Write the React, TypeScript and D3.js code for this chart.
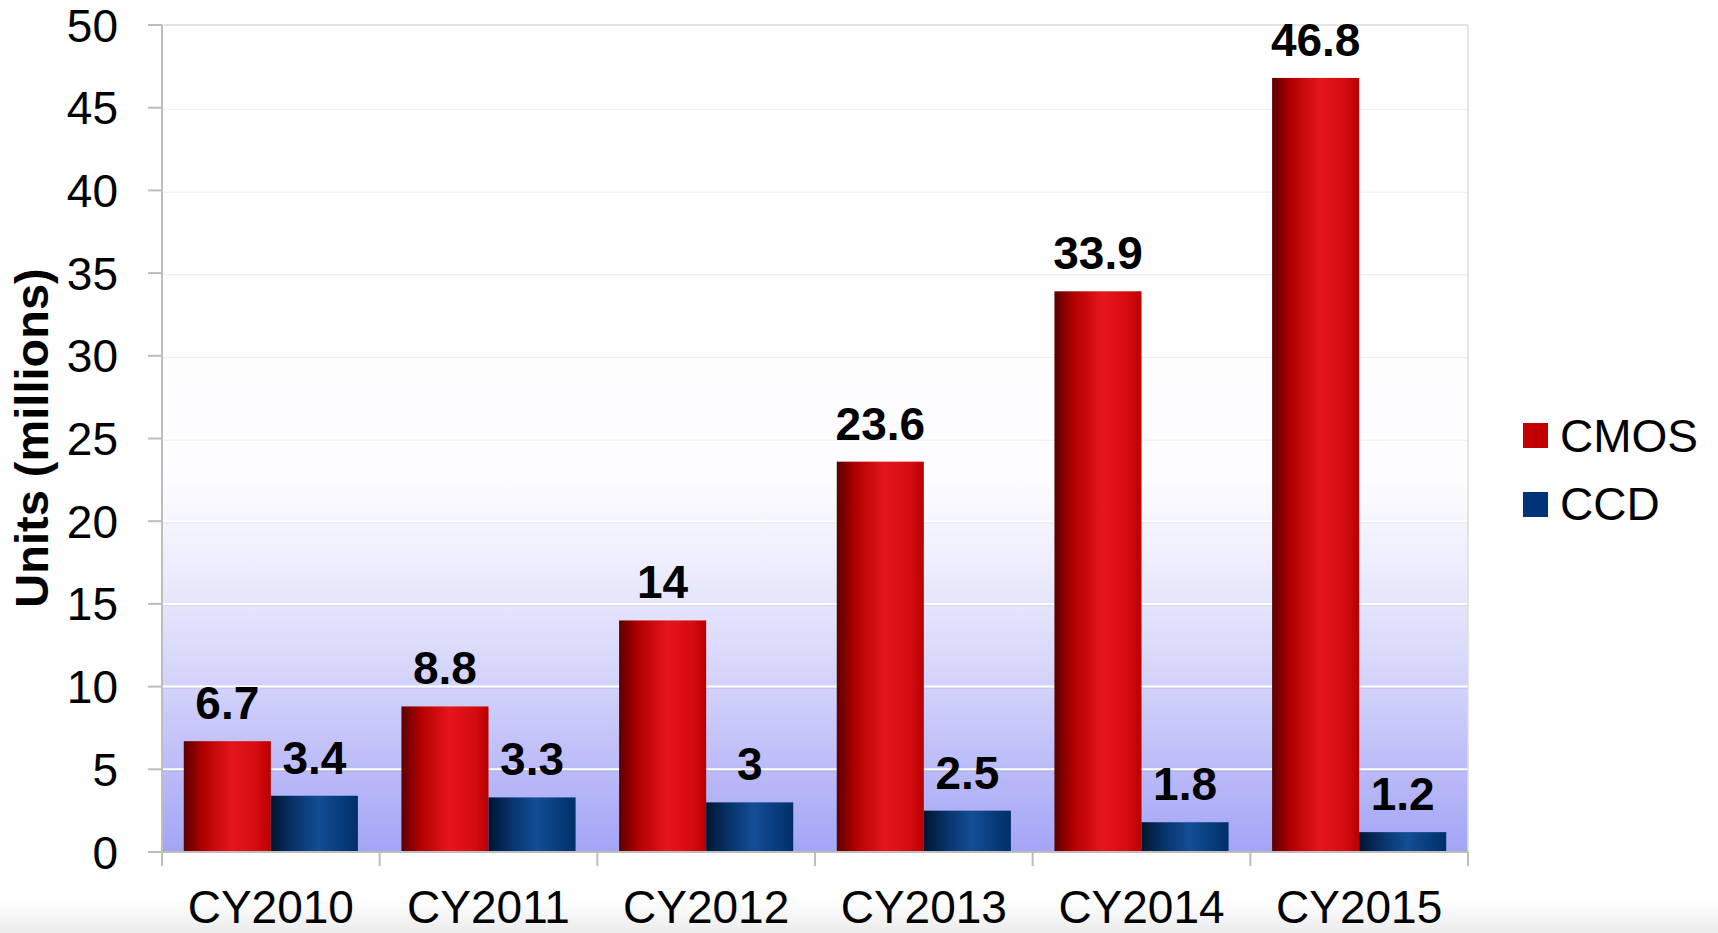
import React, { useEffect, useRef } from 'react';
import * as d3 from 'd3';

const years = ['CY2010', 'CY2011', 'CY2012', 'CY2013', 'CY2014', 'CY2015'];
const seriesNames = ['CMOS', 'CCD'];
const cmosValues = [6.7, 8.8, 14, 23.6, 33.9, 46.8];
const ccdValues = [3.4, 3.3, 3, 2.5, 1.8, 1.2];
const cmosLabels = ['6.7', '8.8', '14', '23.6', '33.9', '46.8'];
const ccdLabels = ['3.4', '3.3', '3', '2.5', '1.8', '1.2'];
const yTicks = [0, 5, 10, 15, 20, 25, 30, 35, 40, 45, 50];

const FONT = '"Liberation Sans", Arial, sans-serif';

function App() {
  const chartRef = useRef<SVGSVGElement>(null);

  useEffect(() => {
    drawChart();
  }, []);

  const drawChart = () => {
    const width = 1718, height = 933;
    const margin = { top: 25, right: 250, bottom: 81, left: 162 };

    d3.select(chartRef.current).selectAll('*').remove();

    const svg = d3.select(chartRef.current)
      .attr('width', width)
      .attr('height', height);

    const defs = svg.append('defs');

    // plot background: white on top, fading to lavender at the bottom
    const bg = defs.append('linearGradient')
      .attr('id', 'bgGrad')
      .attr('x1', 0).attr('y1', 0).attr('x2', 0).attr('y2', 1);
    bg.append('stop').attr('offset', '0%').attr('stop-color', '#ffffff');
    bg.append('stop').attr('offset', '55%').attr('stop-color', '#fdfdff');
    bg.append('stop').attr('offset', '66%').attr('stop-color', '#ececfd');
    bg.append('stop').attr('offset', '80%').attr('stop-color', '#d2d2fa');
    bg.append('stop').attr('offset', '100%').attr('stop-color', '#a4a4f6');

    const red = defs.append('linearGradient').attr('id', 'redGrad');
    red.append('stop').attr('offset', '0%').attr('stop-color', '#5c0000');
    red.append('stop').attr('offset', '22%').attr('stop-color', '#b30000');
    red.append('stop').attr('offset', '55%').attr('stop-color', '#e5161c');
    red.append('stop').attr('offset', '85%').attr('stop-color', '#d40b10');
    red.append('stop').attr('offset', '100%').attr('stop-color', '#b80000');

    const blue = defs.append('linearGradient').attr('id', 'blueGrad');
    blue.append('stop').attr('offset', '0%').attr('stop-color', '#001530');
    blue.append('stop').attr('offset', '28%').attr('stop-color', '#08356e');
    blue.append('stop').attr('offset', '55%').attr('stop-color', '#134e96');
    blue.append('stop').attr('offset', '100%').attr('stop-color', '#002f68');

    const foot = defs.append('linearGradient')
      .attr('id', 'footGrad')
      .attr('x1', 0).attr('y1', 0).attr('x2', 0).attr('y2', 1);
    foot.append('stop').attr('offset', '0%').attr('stop-color', '#ffffff');
    foot.append('stop').attr('offset', '100%').attr('stop-color', '#ebebeb');

    svg.append('rect')
      .attr('x', 0).attr('y', 900)
      .attr('width', width).attr('height', height - 900)
      .attr('fill', 'url(#footGrad)');

    const x0 = d3.scaleBand()
      .domain(years)
      .range([margin.left, width - margin.right])
      .paddingInner(0.2)
      .paddingOuter(0.1);

    const x1 = d3.scaleBand()
      .domain(seriesNames)
      .range([0, x0.bandwidth()]);

    const y = d3.scaleLinear()
      .domain([0, 50])
      .range([height - margin.bottom, margin.top]);

    const plotL = margin.left, plotR = width - margin.right;
    const plotT = y(50), plotB = y(0);
    const step = (plotR - plotL) / years.length;

    svg.append('rect')
      .attr('x', plotL).attr('y', plotT)
      .attr('width', plotR - plotL).attr('height', plotB - plotT)
      .attr('fill', 'url(#bgGrad)');

    // gridlines
    const grid = svg.append('g');
    yTicks.filter(t => t > 0 && t < 50).forEach(t => {
      grid.append('line')
        .attr('x1', plotL).attr('x2', plotR)
        .attr('y1', y(t) + 1.5).attr('y2', y(t) + 1.5)
        .attr('stroke', '#000').attr('stroke-opacity', 0.06).attr('stroke-width', 1.5);
      grid.append('line')
        .attr('x1', plotL).attr('x2', plotR)
        .attr('y1', y(t)).attr('y2', y(t))
        .attr('stroke', '#fff').attr('stroke-width', 2);
    });

    // plot frame
    svg.append('line')
      .attr('x1', plotL).attr('x2', plotR).attr('y1', plotT).attr('y2', plotT)
      .attr('stroke', '#dcdcdc').attr('stroke-width', 1.5);
    svg.append('line')
      .attr('x1', plotR).attr('x2', plotR).attr('y1', plotT).attr('y2', plotB)
      .attr('stroke', '#dcdcdc').attr('stroke-width', 1.5);

    // bars
    const groups = svg.selectAll('.year')
      .data(years)
      .join('g')
      .attr('class', 'year')
      .attr('transform', d => `translate(${x0(d)},0)`);

    groups.append('rect')
      .attr('x', x1('CMOS'))
      .attr('y', (d, i) => y(cmosValues[i]))
      .attr('width', x1.bandwidth())
      .attr('height', (d, i) => y(0) - y(cmosValues[i]))
      .attr('fill', 'url(#redGrad)');

    groups.append('rect')
      .attr('x', x1('CCD'))
      .attr('y', (d, i) => y(ccdValues[i]))
      .attr('width', x1.bandwidth())
      .attr('height', (d, i) => y(0) - y(ccdValues[i]))
      .attr('fill', 'url(#blueGrad)');

    groups.append('text')
      .attr('x', x1('CMOS') + x1.bandwidth() / 2)
      .attr('y', (d, i) => y(cmosValues[i]) - 22)
      .attr('text-anchor', 'middle')
      .style('font', `bold 46px ${FONT}`)
      .text((d, i) => cmosLabels[i]);

    groups.append('text')
      .attr('x', x1('CCD') + x1.bandwidth() / 2)
      .attr('y', (d, i) => y(ccdValues[i]) - 22)
      .attr('text-anchor', 'middle')
      .style('font', `bold 46px ${FONT}`)
      .text((d, i) => ccdLabels[i]);

    // axes
    const axisColor = '#bdbdbd';
    svg.append('line')
      .attr('x1', plotL).attr('x2', plotL).attr('y1', plotT).attr('y2', plotB + 14)
      .attr('stroke', axisColor).attr('stroke-width', 2);
    svg.append('line')
      .attr('x1', plotL - 14).attr('x2', plotR).attr('y1', plotB).attr('y2', plotB)
      .attr('stroke', axisColor).attr('stroke-width', 2);

    yTicks.forEach(t => {
      svg.append('line')
        .attr('x1', plotL - 14).attr('x2', plotL)
        .attr('y1', y(t)).attr('y2', y(t))
        .attr('stroke', axisColor).attr('stroke-width', 2);
      svg.append('text')
        .attr('x', 118)
        .attr('y', y(t) + 16.5)
        .attr('text-anchor', 'end')
        .style('font', `46px ${FONT}`)
        .text(t);
    });

    d3.range(years.length + 1).forEach(i => {
      const xx = plotL + i * step;
      svg.append('line')
        .attr('x1', xx).attr('x2', xx).attr('y1', plotB).attr('y2', plotB + 14)
        .attr('stroke', axisColor).attr('stroke-width', 2);
    });

    years.forEach(yr => {
      svg.append('text')
        .attr('x', x0(yr) + x0.bandwidth() / 2)
        .attr('y', 923)
        .attr('text-anchor', 'middle')
        .style('font', `46px ${FONT}`)
        .text(yr);
    });

    svg.append('text')
      .attr('transform', 'translate(48,438) rotate(-90)')
      .attr('text-anchor', 'middle')
      .style('font', `bold 47px ${FONT}`)
      .text('Units (millions)');

    // legend
    const legendColors = ['#c00000', '#003378'];
    seriesNames.forEach((s, i) => {
      svg.append('rect')
        .attr('x', 1523).attr('y', 423 + i * 69)
        .attr('width', 25).attr('height', 25)
        .attr('fill', legendColors[i]);
      svg.append('text')
        .attr('x', 1560).attr('y', 452 + i * 68)
        .style('font', `46px ${FONT}`)
        .text(s);
    });
  };

  return (
    <div style={{ position: 'absolute', left: 0, top: 0, background: '#fff' }}>
      <svg ref={chartRef}></svg>
    </div>
  );
}

export default App;
